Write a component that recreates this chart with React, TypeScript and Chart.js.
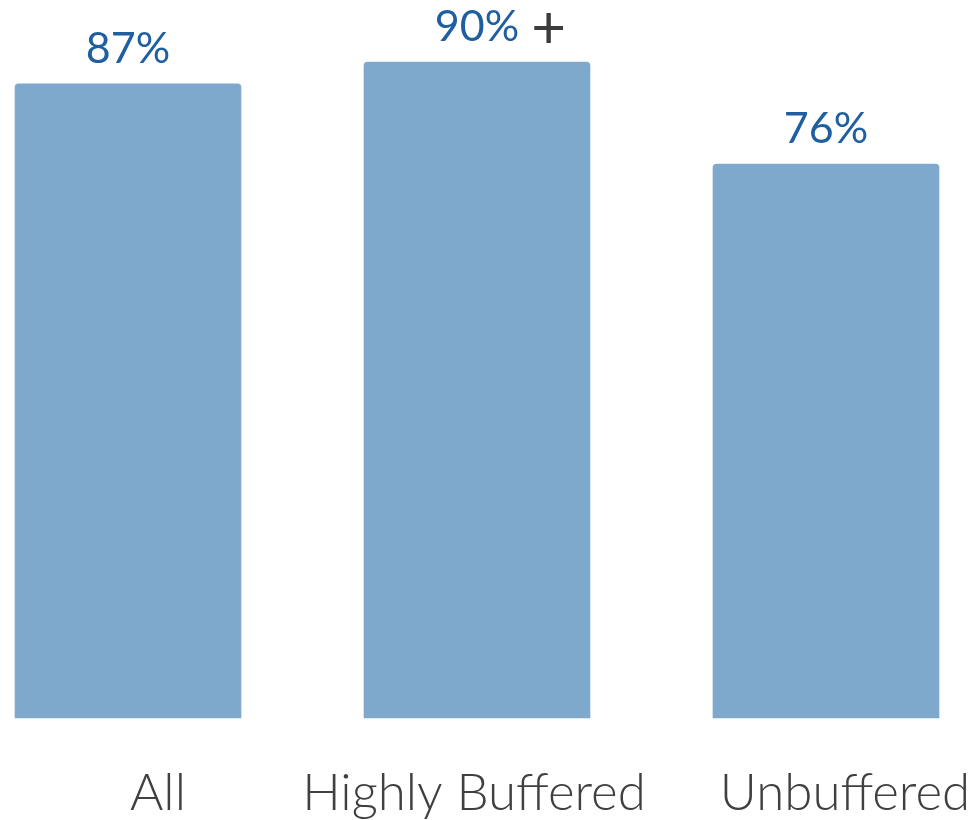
import React, { useEffect, useRef } from "react";
import { Chart, registerables } from "chart.js";

Chart.register(...registerables);

const categories = ["All", "Highly Buffered", "Unbuffered"];
const values = [87, 90, 76];
const valueLabels = ["87%", "90%", "76%"];
const valueSuffixes = ["", "+", ""];
const labelShift = [30, -3, 19];

const BAR_COLOR = "#7EA9CD";
const VALUE_COLOR = "#1F5FA0";
const SUFFIX_COLOR = "#3C3C3C";
const AXIS_TEXT = "#404040";

const labelPlugin = {
  id: "customLabels",
  afterDatasetsDraw(chart: any) {
    const ctx = chart.ctx;
    const meta = chart.getDatasetMeta(0);
    const xScale = chart.scales.x;
    ctx.save();
    meta.data.forEach((bar: any, i: number) => {
      // value labels
      ctx.font = "400 43px Lato, 'Open Sans', sans-serif";
      ctx.textBaseline = "alphabetic";
      ctx.textAlign = "center";
      ctx.fillStyle = VALUE_COLOR;
      const txt = valueLabels[i];
      const ty = bar.y - 21;
      ctx.fillText(txt, bar.x, ty);
      if (valueSuffixes[i]) {
        const w = ctx.measureText(txt).width;
        ctx.textAlign = "left";
        ctx.fillStyle = SUFFIX_COLOR;
        ctx.font = "400 60px Lato, 'Open Sans', sans-serif";
        ctx.fillText(valueSuffixes[i], bar.x + w / 2 + 12, ty + 7);
      }
      // category labels
      ctx.font = "300 51px Lato, 'Open Sans', sans-serif";
      ctx.textAlign = "center";
      ctx.fillStyle = AXIS_TEXT;
      const cx = xScale.getPixelForValue(i) + labelShift[i];
      ctx.fillText(categories[i], cx, chart.chartArea.bottom + 92);
    });
    ctx.restore();
  },
};

export default function App() {
  const ref = useRef<HTMLCanvasElement | null>(null);
  useEffect(() => {
    if (!ref.current) return;
    const chart = new Chart(ref.current, {
      type: "bar",
      data: {
        labels: categories,
        datasets: [
          {
            data: values,
            backgroundColor: BAR_COLOR,
            borderWidth: 0,
            borderRadius: 4,
            borderSkipped: "bottom",
            barThickness: 226,
            clip: false as any,
          },
        ],
      },
      options: {
        animation: false,
        responsive: false,
        layout: { padding: { left: 128, right: 148, top: 0, bottom: 102 } },
        plugins: { legend: { display: false }, tooltip: { enabled: false } },
        scales: {
          x: {
            offset: false,
            display: false,
            grid: { display: false },
          },
          y: {
            display: false,
            min: 0,
            max: 98.5,
          },
        },
      },
      plugins: [labelPlugin],
    });
    return () => chart.destroy();
  }, []);
  return (
    <div style={{ position: "absolute", left: 0, top: 0, width: 974, height: 820, background: "#fff" }}>
      <canvas ref={ref} width={974} height={820} />
    </div>
  );
}
